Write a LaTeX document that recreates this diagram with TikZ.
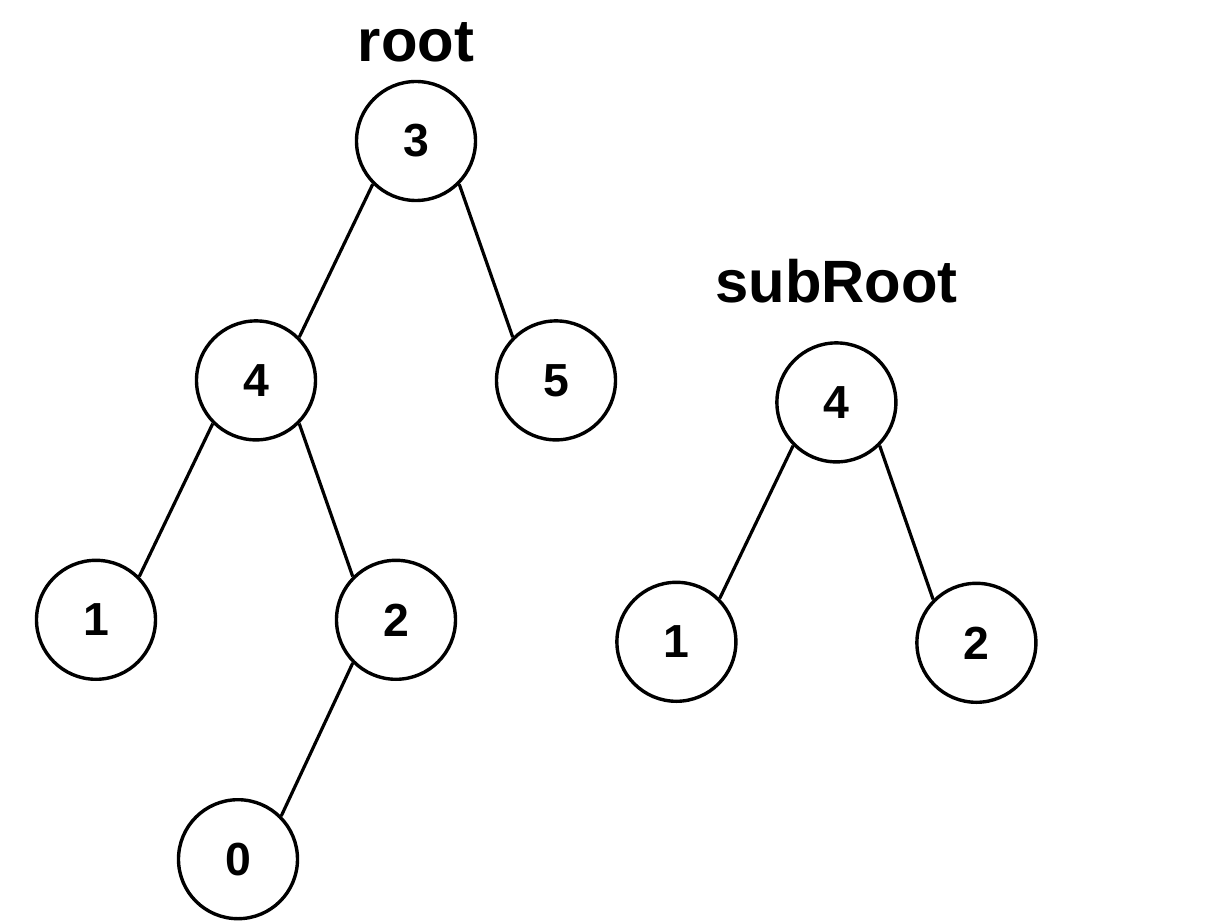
\documentclass[tikz,border=0pt]{standalone}
\usepackage{fontspec}
\setmainfont{Liberation Sans}
\usetikzlibrary{positioning}

\begin{document}
\begin{tikzpicture}[
  vertex/.style={
    draw,
    circle,
    line width=0.85mm,
    minimum size=29.75mm,
    inner sep=0pt,
    font=\fontsize{33}{40}\selectfont\bfseries,
    fill=white
  },
  title/.style={inner sep=0pt, outer sep=0pt, font=\fontsize{42.5}{50}\selectfont\bfseries},
  edge/.style={draw, line width=0.8mm}
]
\useasboundingbox (-104mm,-195.5mm) rectangle (199.75mm,35.25mm);

\node[vertex] (three) {3};
\node[vertex, below=29.25mm of three, xshift=-40mm] (four) {4};
\node[vertex, below=29.25mm of three, xshift=35mm] (five) {5};
\node[vertex, below=29.25mm of four, xshift=-40mm] (one) {1};
\node[vertex, below=29.25mm of four, xshift=35mm] (two) {2};
\node[vertex, below=29.25mm of two, xshift=-39.5mm] (zero) {0};

\node[vertex, right=39.5mm of five, yshift=-5.5mm] (subfour) {4};
\node[vertex, below=29.25mm of subfour, xshift=-40mm] (subone) {1};
\node[vertex, below=29.5mm of subfour, xshift=35mm] (subtwo) {2};

\node[title, above=4.5mm of three] (rootlabel) {root};
\node[title, above=9.5mm of subfour] (sublabel) {subRoot};

\draw[edge] (three.south west) -- (four.north east);
\draw[edge] (three.south east) -- (five.north west);
\draw[edge] (four.south west) -- (one.north east);
\draw[edge] (four.south east) -- (two.north west);
\draw[edge] (two.south west) -- (zero.north east);
\draw[edge] (subfour.south west) -- (subone.north east);
\draw[edge] (subfour.south east) -- (subtwo.north west);
\end{tikzpicture}
\end{document}
